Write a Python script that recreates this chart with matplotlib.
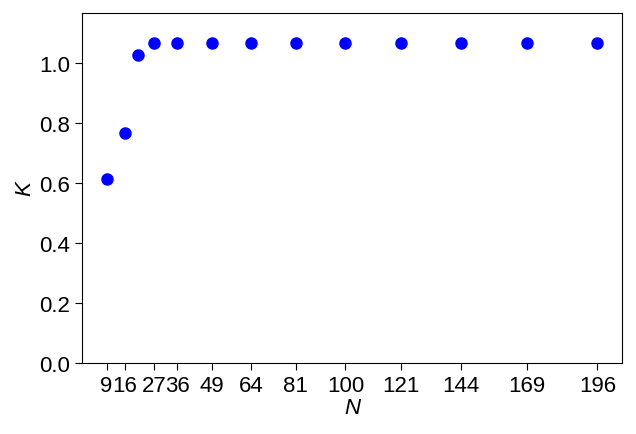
import matplotlib
matplotlib.use("Agg")
import matplotlib.pyplot as plt

plt.rcParams["font.family"] = ["Liberation Sans", "DejaVu Sans"]

N = [9, 16, 21, 27, 36, 49, 64, 81, 100, 121, 144, 169, 196]
K = [0.613, 0.765, 1.026, 1.065, 1.065, 1.065, 1.065, 1.065, 1.065, 1.065, 1.065, 1.065, 1.065]
xticks = [9, 16, 27, 36, 49, 64, 81, 100, 121, 144, 169, 196]
yticks = [0.0, 0.2, 0.4, 0.6, 0.8, 1.0]


def main():
    fig, ax = plt.subplots(figsize=(6.36, 4.35), dpi=100)
    fig.subplots_adjust(left=0.129, right=0.978, top=0.968, bottom=0.163)

    ax.plot(N, K, "o", color="blue", markersize=8)

    ax.set_xticks(xticks)
    ax.set_yticks(yticks)
    ax.set_ylim(0, 1.166)
    ax.tick_params(labelsize=16, length=5)
    ax.set_xlabel("N", fontsize=16, style="italic", labelpad=1)
    ax.set_ylabel("K", fontsize=16, style="italic", labelpad=3)

    fig.savefig("out.png", dpi=100)


if __name__ == "__main__":
    main()
